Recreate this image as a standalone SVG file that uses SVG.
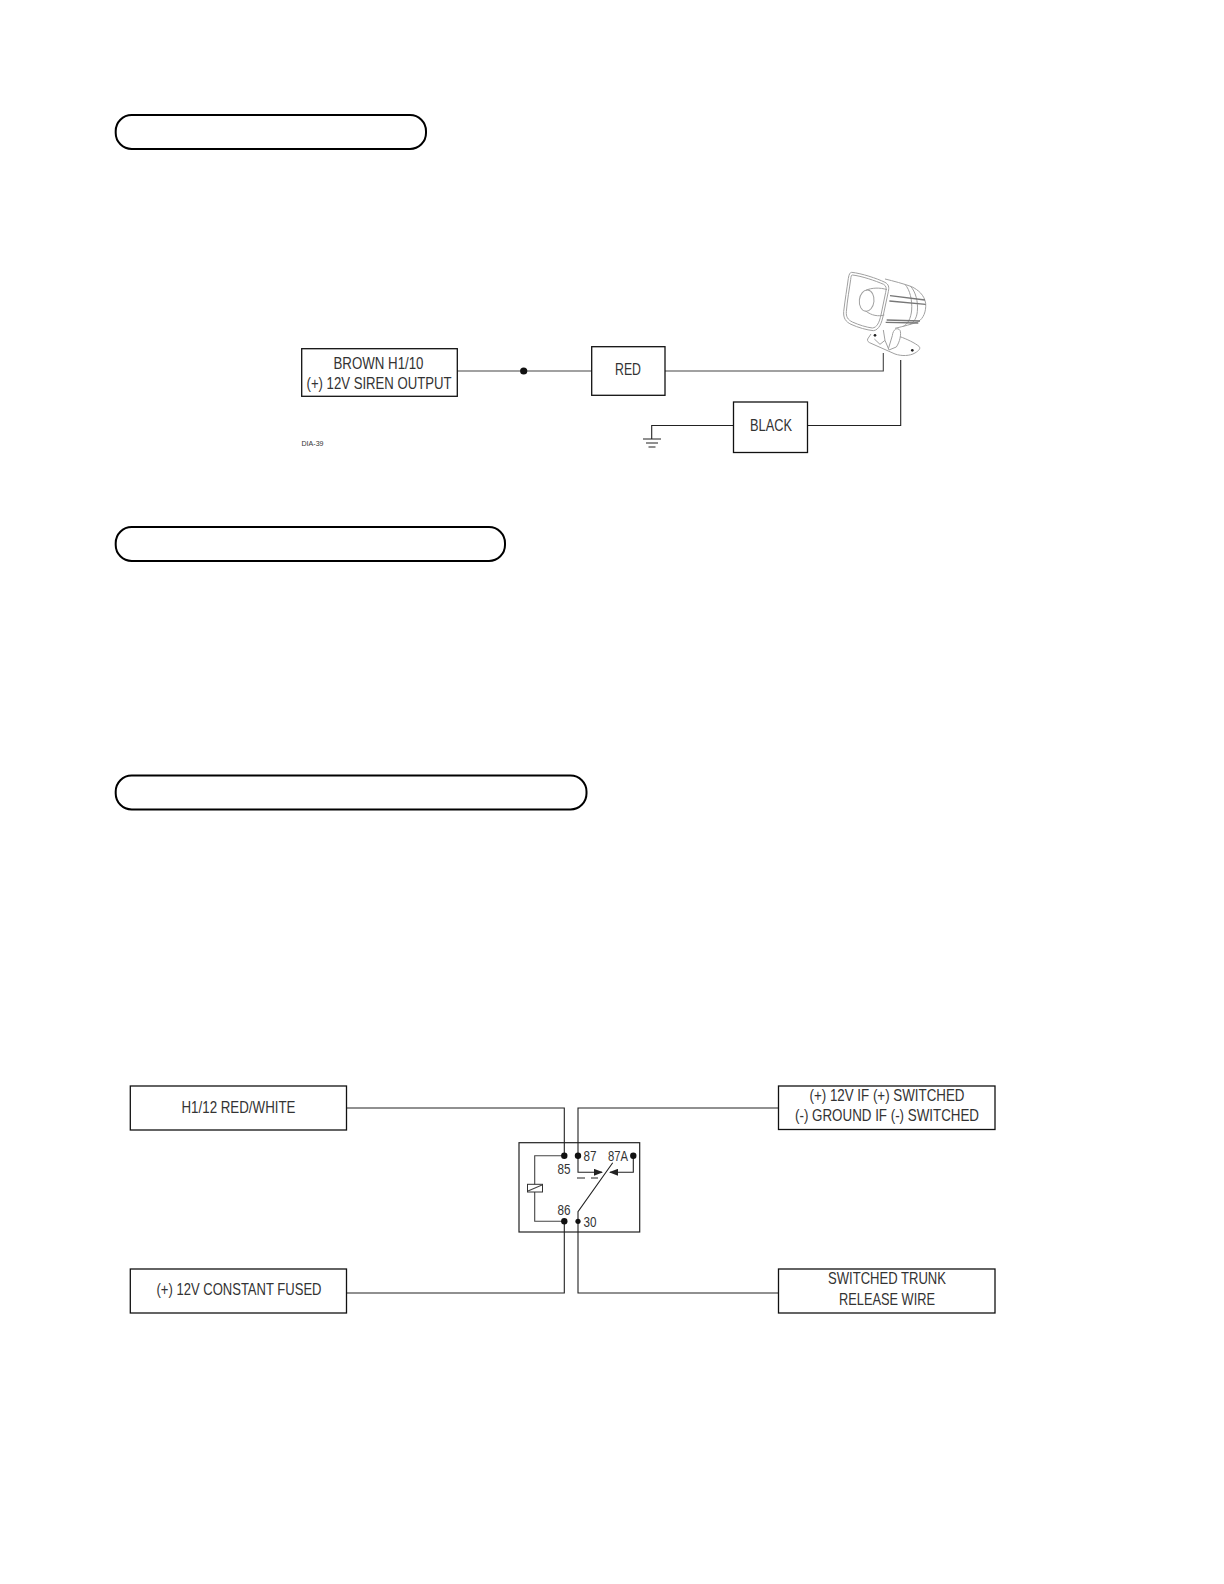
<svg xmlns="http://www.w3.org/2000/svg" width="1224" height="1584" viewBox="0 0 1224 1584">
<style>
.pill{fill:#fff;stroke:#000;stroke-width:2}
.box{fill:#fff;stroke:#111;stroke-width:1.3}
.frame{fill:none;stroke:#222;stroke-width:1.2}
.w{fill:none;stroke:#444;stroke-width:1.1}
.w2{fill:none;stroke:#222;stroke-width:1.1}
.s{fill:none;stroke:#a0a0a0;stroke-width:3}
.sd{fill:none;stroke:#777;stroke-width:4}
text{font-family:"Liberation Sans",Arial,sans-serif;fill:#333;text-anchor:middle}
.t{font-size:17px}
.r{font-size:15px}
</style>
<defs><marker id="a" markerWidth="9" markerHeight="7" refX="8" refY="3.5" orient="auto" markerUnits="userSpaceOnUse"><path d="M0 0L9 3.5L0 7z" fill="#222"/></marker></defs>
<rect id="heading-1" class="pill" x="115.700" y="115" width="310.300" height="34" rx="16"/>
<rect id="heading-2" class="pill" x="115.700" y="527" width="389.300" height="34" rx="16"/>
<rect id="heading-3" class="pill" x="115.700" y="775.500" width="470.800" height="34" rx="16"/>
<g id="connectors">
<path class="w" d="M457 371H592M665 371H883.300V353"/>
<path class="w2" d="M807 425.500H900.700V360M733 425.500H651.700V439"/>
<path class="w2" d="M643 439H661M646 443H658M648.500 447H655.500"/>
<path class="w2" d="M346.500 1108H564.300V1156M346.500 1293H564.300V1221M778.500 1108H578V1156M778.500 1293H578V1221"/>
</g>
<circle cx="523.700" cy="371" r="3.600" fill="#111"/>
<g id="brown"><rect class="box" x="301.700" y="348.700" width="155.600" height="47.600"/><text class="t" x="378.500" y="369" textLength="90" lengthAdjust="spacingAndGlyphs">BROWN H1/10</text><text class="t" x="379" y="389" textLength="145" lengthAdjust="spacingAndGlyphs">(+) 12V SIREN OUTPUT</text></g>
<g id="red"><rect class="box" x="591.700" y="346.700" width="73.300" height="48.600"/><text class="t" x="628" y="375" textLength="26" lengthAdjust="spacingAndGlyphs">RED</text></g>
<g id="black"><rect class="box" x="733.500" y="402" width="74" height="50.500"/><text class="t" x="771" y="431" textLength="42" lengthAdjust="spacingAndGlyphs">BLACK</text></g>
<text x="312.500" y="446" font-size="7.500" textLength="22" lengthAdjust="spacingAndGlyphs">DIA-39</text>
<g id="siren" transform="translate(835 265) scale(0.3333)">
<path class="s" d="M50 22C80 25 125 40 150 52C161 58 163 66 160 80L145 150C140 175 132 195 115 197C95 195 70 188 48 178C32 170 25 160 26 140C30 105 36 70 40 40C42 28 45 22 50 22Z"/>
<path class="s" d="M52 30C80 33 120 47 146 58C154 63 155 70 152 82L138 150C133 172 126 188 112 189C95 187 72 180 52 171C38 164 33 155 34 140C37 105 43 72 47 44C48 34 49 30 52 30Z"/>
<ellipse class="s" cx="95" cy="107" rx="22" ry="32" transform="rotate(6 95 107)"/>
<path class="s" d="M92 76C110 68 135 67 156 74M92 138C110 152 130 155 148 150"/>
<path class="s" d="M150 42C175 48 205 56 230 65C250 75 268 90 272 115C274 140 265 160 250 170C230 178 205 184 180 190"/>
<path class="s" d="M210 58C225 75 232 105 230 135C228 160 218 178 205 184M226 63C242 80 250 110 247 140C245 160 236 172 225 178"/>
<path class="sd" d="M165 92L270 105M163 108L272 118M155 165L255 168M152 172L250 174"/>
<path class="s" d="M108 207L98 222C96 228 100 232 108 235L180 267C200 274 225 273 240 264C252 257 258 250 252 244C240 234 215 222 195 215"/>
<path class="s" d="M145 195L150 226L135 238M150 226L162 255M160 252L172 212C174 192 188 186 195 196C200 206 194 232 184 246L162 255M118 222L135 238"/>
<circle cx="120" cy="211" r="4" fill="#222"/>
<circle cx="232" cy="256" r="4" fill="#222"/>
</g>
<g id="relay">
<rect class="frame" x="519" y="1142.700" width="120.700" height="89.300"/>
<path class="w" d="M564.300 1155.700H534.700V1221.300H564.300"/>
<rect x="527.500" y="1184.300" width="15" height="7.700" fill="#fff" stroke="#333" stroke-width="1"/><path d="M528 1191L542 1185" class="w"/>
<path class="w2" d="M578 1155.700V1172.300H602" marker-end="url(#a)"/>
<path class="w2" d="M633.300 1155.700V1172.300H610" marker-end="url(#a)"/>
<path class="w2" d="M578 1221.300V1211.700L612.700 1162.700"/>
<path class="w2" d="M577 1178H585M591 1178H598"/>
<circle cx="564.300" cy="1155.700" r="3.200" fill="#111"/><circle cx="578" cy="1155.700" r="3.200" fill="#111"/><circle cx="633.300" cy="1155.700" r="3.200" fill="#111"/><circle cx="564.300" cy="1221.300" r="3.200" fill="#111"/><circle cx="578" cy="1221.300" r="2.600" fill="#111"/>
<text class="r" x="590" y="1160.500" textLength="13" lengthAdjust="spacingAndGlyphs">87</text>
<text class="r" x="618" y="1160.500" textLength="20" lengthAdjust="spacingAndGlyphs">87A</text>
<text class="r" x="564" y="1173.500" textLength="13" lengthAdjust="spacingAndGlyphs">85</text>
<text class="r" x="564" y="1215" textLength="13" lengthAdjust="spacingAndGlyphs">86</text>
<text class="r" x="590" y="1226.500" textLength="13" lengthAdjust="spacingAndGlyphs">30</text>
</g>
<g id="h112"><rect class="box" x="130.300" y="1086" width="216.200" height="44"/><text class="t" x="238.500" y="1113" textLength="114" lengthAdjust="spacingAndGlyphs">H1/12 RED/WHITE</text></g>
<g id="constant"><rect class="box" x="130.300" y="1269" width="216.200" height="44"/><text class="t" x="239" y="1295" textLength="165" lengthAdjust="spacingAndGlyphs">(+) 12V CONSTANT FUSED</text></g>
<g id="switched"><rect class="box" x="778.500" y="1086" width="216.500" height="43.500"/><text class="t" x="887" y="1101" textLength="155" lengthAdjust="spacingAndGlyphs">(+) 12V IF (+) SWITCHED</text><text class="t" x="887" y="1121" textLength="184" lengthAdjust="spacingAndGlyphs">(-) GROUND IF (-) SWITCHED</text></g>
<g id="trunk"><rect class="box" x="778.500" y="1269" width="216.500" height="44"/><text class="t" x="887" y="1284" textLength="118" lengthAdjust="spacingAndGlyphs">SWITCHED TRUNK</text><text class="t" x="887" y="1305" textLength="96" lengthAdjust="spacingAndGlyphs">RELEASE WIRE</text></g>
</svg>
